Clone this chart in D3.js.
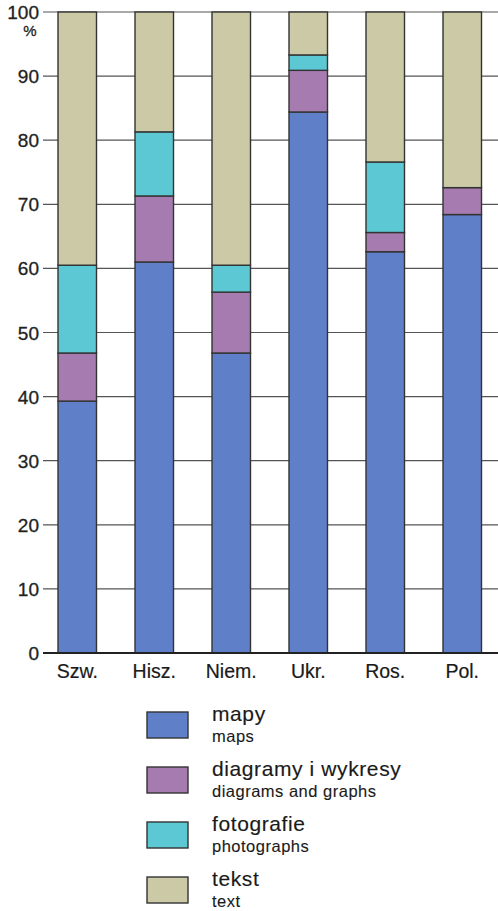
<!DOCTYPE html>
<html>
<head>
<meta charset="utf-8">
<script src="https://cdn.jsdelivr.net/npm/d3@7"></script>
<style>
  body { margin: 0; background: #fff; }
  svg { display: block; font-family: "Liberation Sans", Arial, sans-serif; }
</style>
</head>
<body>
<div id="chart"></div>
<script>
// categories and series (percent shares)
const countries = ["Szw.", "Hisz.", "Niem.", "Ukr.", "Ros.", "Pol."];
const mapy = [39.3, 61.0, 46.8, 84.4, 62.6, 68.4];
const diagramy = [7.5, 10.3, 9.5, 6.5, 3.0, 4.2];
const fotografie = [13.7, 10.0, 4.2, 2.4, 11.0, 0];
const tekst = [39.5, 18.7, 39.5, 6.7, 23.4, 27.4];

const seriesKeys = ["mapy", "diagramy", "fotografie", "tekst"];
const seriesNames = ["mapy", "diagramy i wykresy", "fotografie", "tekst"];
const seriesNamesEn = ["maps", "diagrams and graphs", "photographs", "text"];
const colors = ["#5f7fc8", "#a67cb0", "#5cc8d4", "#cccaa6"];
const yTicks = [0, 10, 20, 30, 40, 50, 60, 70, 80, 90, 100];

const width = 498, height = 911;

// build rows for d3.stack
const rows = countries.map((c, i) => ({
    country: c,
    mapy: mapy[i],
    diagramy: diagramy[i],
    fotografie: fotografie[i],
    tekst: tekst[i]
}));

const svg = d3.select("#chart").append("svg")
    .attr("width", width)
    .attr("height", height);

const x = d3.scaleBand()
    .domain(countries)
    .range([38.75, 500.75])
    .paddingInner(0.5)
    .paddingOuter(0.25);

const y = d3.scaleLinear()
    .domain([0, 100])
    .range([653, 12]);

// gridlines (also act as the tick marks on the left)
svg.append("g")
    .selectAll("line")
    .data(yTicks.filter(d => d > 0))
    .join("line")
    .attr("x1", 43)
    .attr("x2", width)
    .attr("y1", d => y(d))
    .attr("y2", d => y(d))
    .attr("stroke", "#555")
    .attr("stroke-width", 1.2);

// y tick labels (narrow, slightly heavy)
svg.append("g")
    .selectAll("text")
    .data(yTicks)
    .join("text")
    .attr("x", 39)
    .attr("y", d => y(d) + 7)
    .attr("text-anchor", "end")
    .attr("font-family", "'Liberation Sans Narrow', 'Liberation Sans', sans-serif")
    .attr("font-size", 19)
    .attr("fill", "#222")
    .attr("stroke", "#222")
    .attr("stroke-width", 0.3)
    .text(d => d);

svg.append("text")
    .attr("x", 30)
    .attr("y", 36)
    .attr("text-anchor", "middle")
    .attr("font-family", "'Liberation Sans Narrow', 'Liberation Sans', sans-serif")
    .attr("font-size", 15)
    .attr("fill", "#222")
    .attr("stroke", "#222")
    .attr("stroke-width", 0.3)
    .text("%");

// stacked bars
const stacked = d3.stack().keys(seriesKeys)(rows);

svg.append("g")
    .selectAll("g")
    .data(stacked)
    .join("g")
    .attr("fill", (d, i) => colors[i])
    .selectAll("rect")
    .data(d => d.filter(p => p[1] - p[0] > 0))
    .join("rect")
    .attr("x", d => x(d.data.country))
    .attr("width", x.bandwidth())
    .attr("y", d => y(d[1]))
    .attr("height", d => y(d[0]) - y(d[1]))
    .attr("stroke", "#333")
    .attr("stroke-width", 1.4);

// baseline
svg.append("line")
    .attr("x1", 43)
    .attr("x2", width)
    .attr("y1", y(0))
    .attr("y2", y(0))
    .attr("stroke", "#222")
    .attr("stroke-width", 2);

// x labels
svg.append("g")
    .selectAll("text")
    .data(countries)
    .join("text")
    .attr("x", d => x(d) + x.bandwidth() / 2)
    .attr("y", 678)
    .attr("text-anchor", "middle")
    .attr("font-size", 19.5)
    .attr("fill", "#1a1a1a")
    .attr("stroke", "#1a1a1a")
    .attr("stroke-width", 0.2)
    .text(d => d);

// legend
const legend = svg.append("g")
    .selectAll("g")
    .data(seriesKeys)
    .join("g")
    .attr("transform", (d, i) => `translate(147, ${712 + i * 55})`);

legend.append("rect")
    .attr("width", 41)
    .attr("height", 26)
    .attr("fill", (d, i) => colors[i])
    .attr("stroke", "#333")
    .attr("stroke-width", 1.4);

legend.append("text")
    .attr("x", 65)
    .attr("y", 9)
    .attr("font-size", 21)
    .attr("letter-spacing", 0.6)
    .attr("fill", "#1a1a1a")
    .attr("stroke", "#1a1a1a")
    .attr("stroke-width", 0.15)
    .text((d, i) => seriesNames[i]);

legend.append("text")
    .attr("x", 65)
    .attr("y", 30)
    .attr("font-size", 16.5)
    .attr("letter-spacing", 0.5)
    .attr("fill", "#1a1a1a")
    .attr("stroke", "#1a1a1a")
    .attr("stroke-width", 0.1)
    .text((d, i) => seriesNamesEn[i]);
</script>
</body>
</html>
